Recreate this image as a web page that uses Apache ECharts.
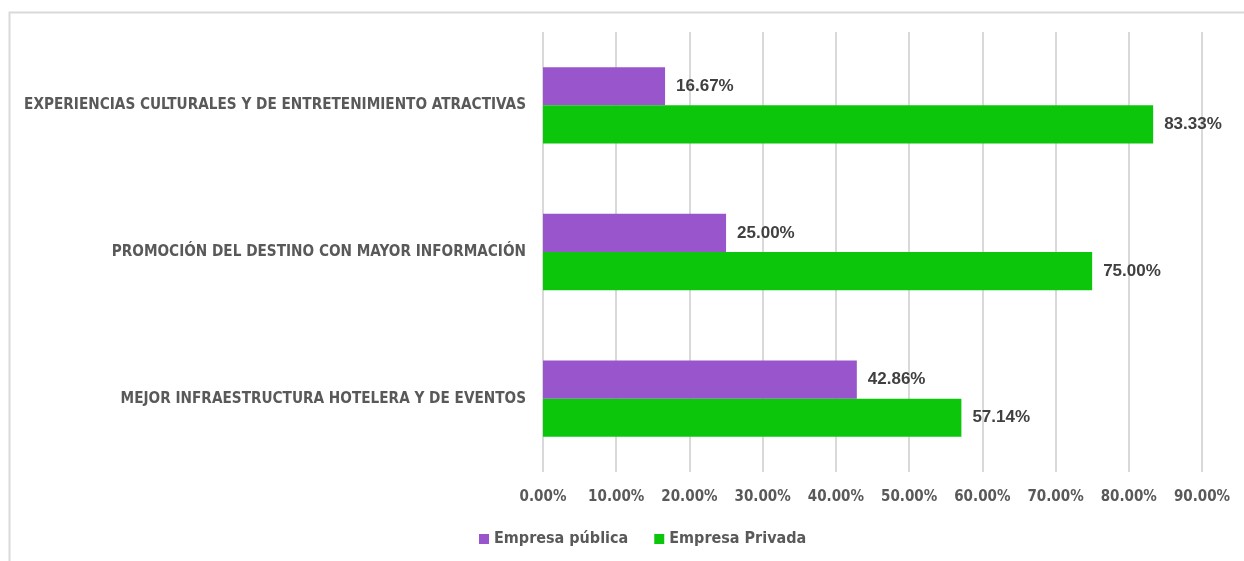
<!DOCTYPE html>
<html>
<head>
<meta charset="utf-8">
<script src="https://cdn.jsdelivr.net/npm/echarts@6/dist/echarts.min.js"></script>
<style>
  html, body { margin: 0; padding: 0; background: #fff; }
  #chart { width: 1244px; height: 561px; }
</style>
</head>
<body>
<div id="chart"></div>
<script>
const categories = [
  "EXPERIENCIAS CULTURALES Y DE ENTRETENIMIENTO ATRACTIVAS",
  "PROMOCIÓN DEL DESTINO CON MAYOR INFORMACIÓN",
  "MEJOR INFRAESTRUCTURA HOTELERA Y DE EVENTOS",
];
const publica = [16.67, 25.0, 42.86];
const privada = [83.33, 75.0, 57.14];
const seriesNames = ["Empresa pública", "Empresa Privada"];

const narrow = '"Liberation Sans Narrow", "DejaVu Sans Condensed", "Roboto", sans-serif';

const chart = echarts.init(document.getElementById("chart"));

function valueLabel() {
  return {
    show: true,
    position: "right",
    distance: 11,
    color: "#404040",
    fontFamily: '"Liberation Sans", Arial, sans-serif',
    fontWeight: "bold",
    fontSize: 17,
    formatter: (p) => p.value.toFixed(2) + "%",
  };
}

chart.setOption({
  backgroundColor: "#fff",
  animation: false,
  graphic: [{
    type: "rect",
    left: 7, top: 10,
    shape: { width: 1300, height: 620 },
    style: { fill: "none", stroke: "#D9D9D9", lineWidth: 2 },
    silent: true,
  }],
  grid: { left: 543, right: 42, top: 32, bottom: 89, containLabel: false },
  legend: {
    bottom: 9,
    left: 474,
    itemWidth: 10,
    itemHeight: 10,
    itemGap: 26,
    icon: "rect",
    textStyle: { color: "#595959", fontFamily: narrow, fontWeight: "bold", fontSize: 16 },
    data: seriesNames,
  },
  xAxis: {
    type: "value",
    min: 0, max: 90, interval: 10,
    axisLine: { show: false },
    axisTick: { show: false },
    axisLabel: {
      color: "#595959", fontFamily: narrow, fontWeight: "bold", fontSize: 15, margin: 18,
      formatter: (v) => v.toFixed(2) + "%",
    },
    splitLine: { show: true, lineStyle: { color: "#D9D9D9", width: 2 } },
  },
  yAxis: {
    type: "category",
    inverse: true,
    data: categories,
    axisLine: { show: false },
    axisTick: { show: false },
    axisLabel: { color: "#595959", fontFamily: narrow, fontWeight: "bold", fontSize: 15.2, margin: 17 },
  },
  series: [
    {
      name: seriesNames[0], type: "bar", data: publica,
      barGap: "0%", barCategoryGap: "48%",
      itemStyle: { color: "#9955CC" },
      label: valueLabel(),
    },
    {
      name: seriesNames[1], type: "bar", data: privada,
      barGap: "0%", barCategoryGap: "48%",
      itemStyle: { color: "#0CC60C" },
      label: valueLabel(),
    },
  ],
});
</script>
</body>
</html>
